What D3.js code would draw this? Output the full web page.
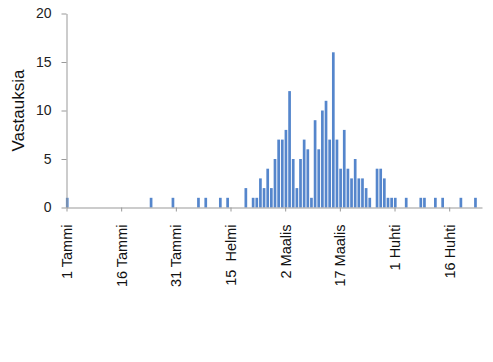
<!DOCTYPE html>
<html>
<head>
<meta charset="utf-8">
<script src="https://cdn.jsdelivr.net/npm/d3@7"></script>
<style>
  body { margin: 0; background: #fff; }
  svg text { font-family: "Liberation Sans", Arial, sans-serif; }
</style>
</head>
<body>
<svg id="bars" width="493" height="362"></svg>
<script>
// day index counted from 1 January (0 = 1 Tammi)
const days = [0, 23, 29, 36, 38, 42, 44, 49, 51, 52, 53, 54, 55, 56, 57, 58, 59, 60, 61, 62, 63, 64, 65, 66, 67, 68, 69, 70, 71, 72, 73, 74, 75, 76, 77, 78, 79, 80, 81, 82, 83, 85, 86, 87, 88, 89, 90, 93, 97, 98, 101, 103, 108, 112];
const counts = [1, 1, 1, 1, 1, 1, 1, 2, 1, 1, 3, 2, 4, 2, 5, 7, 7, 8, 12, 5, 2, 5, 7, 6, 1, 9, 6, 10, 11, 7, 16, 7, 4, 8, 4, 3, 5, 3, 3, 2, 1, 4, 4, 3, 1, 1, 1, 1, 1, 1, 1, 1, 1, 1];

const tickDays = [0, 15, 30, 45, 60, 75, 90, 105];
const tickLabels = ["1 Tammi", "16 Tammi", "31 Tammi", "15  Helmi", "2 Maalis", "17 Maalis", "1 Huhti", "16 Huhti"];
const yTicks = [0, 5, 10, 15, 20];
const yTitle = "Vastauksia";

const data = days.map((d, i) => ({ day: d, count: counts[i] }));

const svg = d3.select("svg#bars");
const width = +svg.attr("width");
const height = +svg.attr("height");

const margin = { top: 13.5, right: 11, bottom: 154.5, left: 66.5 };
const chartWidth = width - margin.left - margin.right;
const chartHeight = height - margin.top - margin.bottom;

const x = d3.scaleLinear([0, 114], [0, chartWidth]);
const y = d3.scaleLinear([0, 20], [chartHeight, 0]);

const chartArea = svg
  .append("g")
  .attr("transform", `translate(${margin.left},${margin.top})`);

const barWidth = 2.7;
chartArea
  .selectAll("rect")
  .data(data)
  .join("rect")
  .attr("x", (d) => x(d.day) - 0.6)
  .attr("width", barWidth)
  .attr("y", (d) => y(d.count))
  .attr("height", (d) => chartHeight - y(d.count))
  .attr("fill", "#5586cc");

const annotations = svg
  .append("g")
  .attr("transform", `translate(${margin.left},${margin.top})`);

const yAxis = annotations
  .append("g")
  .call(d3.axisLeft(y).tickValues(yTicks).tickSize(5).tickPadding(10).tickSizeOuter(0));
yAxis.select(".domain").attr("stroke", "#999");
yAxis.selectAll(".tick line").attr("stroke", "#999");
yAxis.selectAll("text").attr("fill", "#222").style("font-size", "14px");

const xAxis = annotations
  .append("g")
  .attr("transform", `translate(0,${chartHeight})`)
  .call(
    d3.axisBottom(x)
      .tickValues(tickDays)
      .tickFormat((d, i) => tickLabels[i])
      .tickSize(4)
      .tickSizeOuter(0)
  );
xAxis.select(".domain").attr("stroke", "#999");
xAxis.selectAll(".tick line").attr("stroke", "#999");
xAxis
  .selectAll("text")
  .attr("fill", "#111")
  .style("font-size", "14.5px")
  .style("white-space", "pre")
  .style("text-anchor", "end")
  .attr("x", 0)
  .attr("y", 0)
  .attr("dx", "-17")
  .attr("dy", "0.35em")
  .attr("transform", "rotate(-90)");

svg
  .append("text")
  .attr("transform", `translate(24,${margin.top + chartHeight / 2}) rotate(-90)`)
  .attr("text-anchor", "middle")
  .style("font-size", "17px")
  .attr("fill", "#111")
  .text(yTitle);
</script>
</body>
</html>
